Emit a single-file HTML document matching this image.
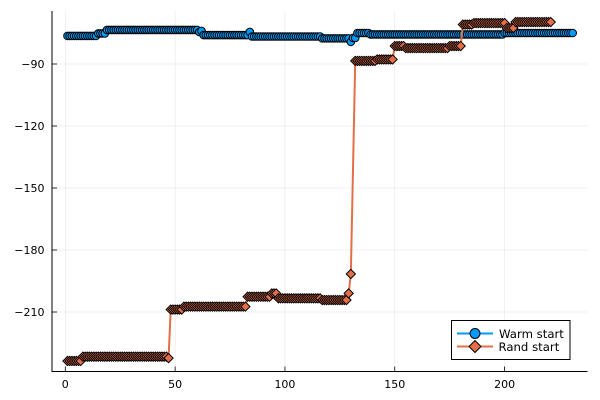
<!DOCTYPE html>
<html>
<head>
<meta charset="utf-8">
<title>Warm start vs Rand start</title>
<style>
html,body{margin:0;padding:0;background:#fff;width:600px;height:400px;overflow:hidden}
svg{display:block}
text{font-family:"DejaVu Sans","Liberation Sans",sans-serif;fill:#000}
</style>
</head>
<body>
<svg id="chart" xmlns="http://www.w3.org/2000/svg" width="600" height="400" viewBox="0 0 600 400">
  <rect x="0" y="0" width="600" height="400" fill="#fff"></rect>
  <g id="grid"></g>
  <g id="warm"></g>
  <g id="rand"></g>
  <g id="axes"></g>
  <g id="legend">
    <rect x="451.5" y="320.5" width="118.5" height="39" fill="#fff" stroke="#000" stroke-width="1"></rect>
    <g>
      <line x1="457" y1="333.5" x2="493" y2="333.5" stroke="#009AFA" stroke-width="2"></line>
      <circle cx="475" cy="333.5" r="5" fill="#009AFA" stroke="#000" stroke-width="1"></circle>
      <text x="499" y="338" font-size="11.7">Warm start</text>
    </g>
    <g>
      <line x1="457" y1="346.5" x2="493" y2="346.5" stroke="#E36F47" stroke-width="2"></line>
      <polygon points="475,340.5 481,346.5 475,352.5 469,346.5" fill="#E36F47" stroke="#000" stroke-width="1"></polygon>
      <text x="498.5" y="350.8" font-size="11.7">Rand start</text>
    </g>
  </g>
</svg>
<script>
const xTicks = [0, 50, 100, 150, 200];
const yTicks = [-90, -120, -150, -180, -210];
const yTickLabels = ['\u221290', '\u2212120', '\u2212150', '\u2212180', '\u2212210'];

const warmRunStart = [1, 15, 19, 61, 62, 63, 84, 85, 117, 130, 131, 133, 139, 200];
const warmRunEnd = [14, 18, 60, 61, 62, 83, 84, 116, 129, 130, 132, 138, 199, 231];
const warmRunValue = [-76.4, -75.2, -73.5, -74.5, -74.0, -76.0, -74.5, -76.7, -77.6, -79.3, -77.4, -75.0, -75.7, -75.0];

const randRunStart = [1, 8, 47, 48, 54, 83, 94, 97, 117, 129, 130, 132, 142, 150, 155, 175, 181, 186, 201, 205];
const randRunEnd = [7, 46, 47, 53, 82, 93, 96, 116, 128, 129, 130, 141, 149, 154, 174, 180, 185, 200, 204, 221];
const randRunValue = [-233.7, -231.6, -232.3, -208.8, -207.4, -202.6, -201.0, -203.4, -204.2, -201.0, -191.6, -88.5, -87.8, -81.3, -82.3, -81.3, -70.9, -70.2, -72.6, -69.7];

const NS = 'http://www.w3.org/2000/svg';
const plot = { left: 52, right: 587.5, top: 11, bottom: 371.5 };

function xScale(v) { return 65.3 + v * 2.1965; }
function yScale(v) { return 64 + (-90 - v) * 2.0667; }

function expandRuns(starts, ends, values) {
  const pts = [];
  for (let i = 0; i < starts.length; i++) {
    for (let x = starts[i]; x <= ends[i]; x++) {
      pts.push([x, values[i]]);
    }
  }
  return pts;
}

function make(tag, attrs) {
  const el = document.createElementNS(NS, tag);
  for (const k in attrs) el.setAttribute(k, attrs[k]);
  return el;
}

const gridG = document.getElementById('grid');
const axesG = document.getElementById('axes');

xTicks.forEach(function (t) {
  const x = xScale(t);
  const g = make('line', { x1: x, x2: x, y1: plot.top, y2: plot.bottom, stroke: '#000', 'stroke-opacity': 0.1, 'stroke-width': 0.6 });
  
  
  gridG.appendChild(g);
  const tick = make('line', { x1: x, x2: x, y1: plot.bottom, y2: plot.bottom - 5, stroke: '#000', 'stroke-width': 0.8 });
  
  
  axesG.appendChild(tick);
  const label = make('text', { x: x, y: 388, 'text-anchor': 'middle', 'font-size': 11 });
  
  
  label.textContent = String(t);
  axesG.appendChild(label);
});

yTicks.forEach(function (t, i) {
  const y = yScale(t);
  const g = make('line', { x1: plot.left, x2: plot.right, y1: y, y2: y, stroke: '#000', 'stroke-opacity': 0.1, 'stroke-width': 0.6 });
  
  
  gridG.appendChild(g);
  const tick = make('line', { x1: plot.left, x2: plot.left + 5, y1: y, y2: y, stroke: '#000', 'stroke-width': 0.8 });
  
  
  axesG.appendChild(tick);
  const label = make('text', { x: 44.5, y: y + 4, 'text-anchor': 'end', 'font-size': 11 });
  
  
  label.textContent = yTickLabels[i];
  axesG.appendChild(label);
});

const yAxis = make('line', { x1: plot.left, x2: plot.left, y1: plot.top, y2: plot.bottom + 0.5, stroke: '#000', 'stroke-width': 1 });


axesG.appendChild(yAxis);

const xAxis = make('line', { x1: plot.left, x2: plot.right, y1: plot.bottom, y2: plot.bottom, stroke: '#000', 'stroke-width': 1 });


axesG.appendChild(xAxis);

function polyPoints(pts) {
  return pts.map(function (p) { return xScale(p[0]).toFixed(2) + ',' + yScale(p[1]).toFixed(2); }).join(' ');
}

const warmG = document.getElementById('warm');
const warmPts = expandRuns(warmRunStart, warmRunEnd, warmRunValue);
const warmLine = make('polyline', { points: polyPoints(warmPts), fill: 'none', stroke: '#009AFA', 'stroke-width': 2 });


warmG.appendChild(warmLine);
warmPts.forEach(function (p) {
  const c = make('circle', { cx: xScale(p[0]).toFixed(2), cy: yScale(p[1]).toFixed(2), r: 3.8, fill: '#009AFA', stroke: '#000', 'stroke-width': 1 });
  
  
  warmG.appendChild(c);
});

const randG = document.getElementById('rand');
const randPts = expandRuns(randRunStart, randRunEnd, randRunValue);
const randLine = make('polyline', { points: polyPoints(randPts), fill: 'none', stroke: '#E36F47', 'stroke-width': 2 });


randG.appendChild(randLine);
randPts.forEach(function (p) {
  const x = xScale(p[0]);
  const y = yScale(p[1]);
  const s = 4.6;
  const d = make('polygon', {
    points: x.toFixed(2) + ',' + (y - s).toFixed(2) + ' ' + (x + s).toFixed(2) + ',' + y.toFixed(2) + ' ' + x.toFixed(2) + ',' + (y + s).toFixed(2) + ' ' + (x - s).toFixed(2) + ',' + y.toFixed(2),
    fill: '#E36F47', stroke: '#000', 'stroke-width': 1
  });
  
  
  randG.appendChild(d);
});
</script>
</body>
</html>
